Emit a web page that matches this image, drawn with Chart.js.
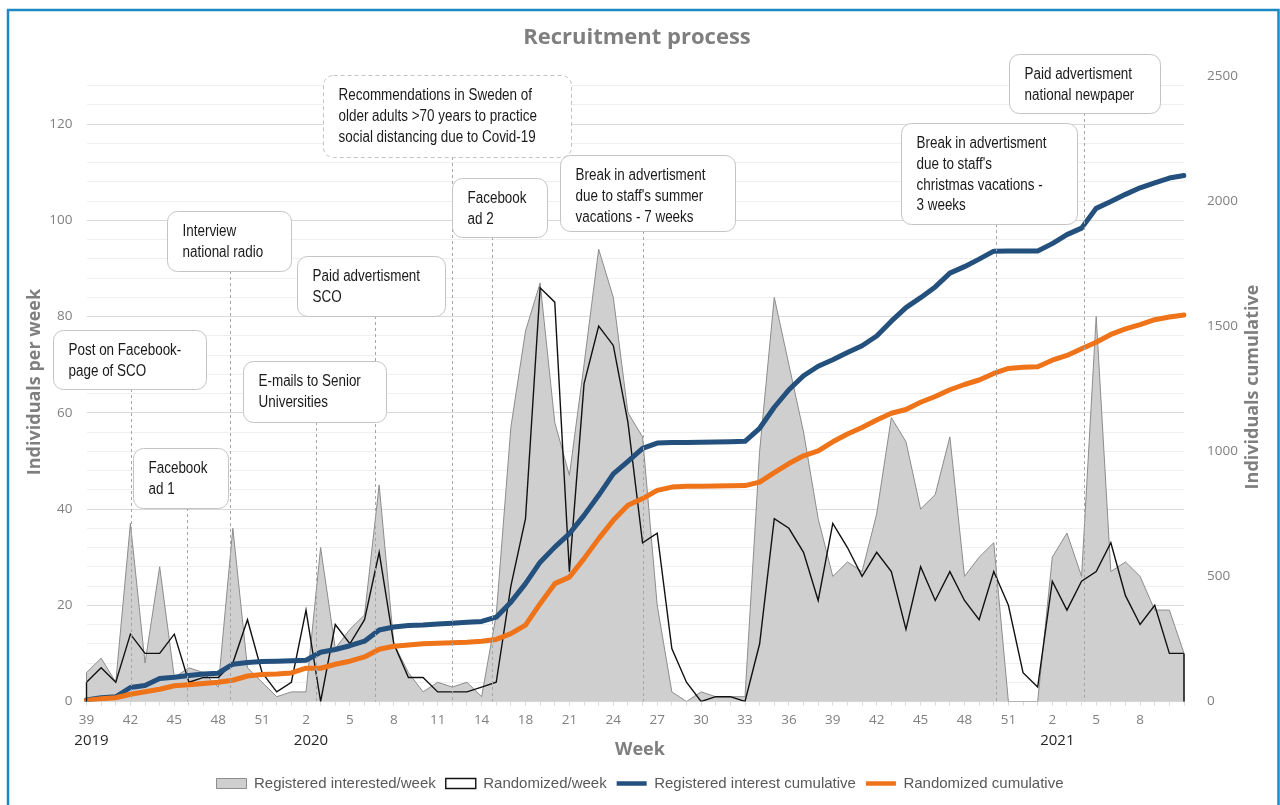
<!DOCTYPE html>
<html>
<head>
<meta charset="utf-8">
<title>Recruitment process</title>
<script src="https://cdn.jsdelivr.net/npm/chart.js@4.4.1/dist/chart.umd.min.js"></script>
<style>
  html, body { margin: 0; padding: 0; background: #fff; }
  #wrap { position: relative; width: 1280px; height: 805px; }
</style>
</head>
<body>
<div id="wrap"><canvas id="chart"></canvas></div>
<script>
// week numbers on the category axis (2019 w39 .. 2021 w11)
const weeks = [
  39, 40, 41, 42, 43, 44, 45, 46, 47, 48, 49, 50, 51, 52,
  1, 2, 3, 4, 5, 6, 7, 8, 9, 10, 11, 12, 13, 14, 16, 17, 18, 19, 20, 21, 22, 23, 24, 25,
  26, 27, 28, 29, 30, 31, 32, 33, 34, 35, 36, 37, 38, 39, 40, 41, 42, 43, 44, 45, 46, 47,
  48, 49, 50, 51, 52,
  1, 2, 3, 4, 5, 6, 7, 8, 9, 10, 11
];
const labelEvery = 3;
const lastLabelIdx = 72;
const years = ['2019', '2020', '2021'];
const yearAt = [0, 15, 66];

const registeredWeek = [
  6, 9, 4, 37, 8, 28, 5, 7, 6, 3, 36, 7, 4, 1, 2, 2, 32, 11, 15, 18, 45, 12, 6, 2, 4, 3, 4, 1,
  18, 57, 77, 87, 58, 47, 70, 94, 84, 60, 55, 20, 2, 0, 2, 1, 1, 1,
  52, 84, 70, 56, 38, 26, 29, 27, 39, 59, 54, 40, 43, 55, 26, 30, 33, 0, 0, 0,
  30, 35, 26, 80, 27, 29, 26, 19, 19, 10
];
const randomizedWeek = [
  4, 7, 4, 14, 10, 10, 14, 4, 5, 5, 8, 17, 6, 2, 4, 19, 0, 16, 12, 17, 31, 12, 5, 5, 2, 2, 2, 3,
  4, 24, 38, 86, 83, 27, 66, 78, 74, 58, 33, 35, 11, 4, 0, 1, 1, 0,
  12, 38, 36, 31, 21, 37, 32, 26, 31, 27, 15, 28, 21, 27, 21, 17, 27, 20, 6, 3,
  25, 19, 25, 27, 33, 22, 16, 20, 10, 10
];
const registeredCum = [
  6, 15, 19, 56, 64, 92, 97, 104, 110, 113, 149, 156, 160, 161, 163, 165, 197, 208, 223, 241,
  286, 298, 304, 306, 310, 313, 317, 320, 337, 397, 471, 557, 617, 671, 744, 824, 910, 960,
  1012, 1033, 1035, 1035, 1036, 1037, 1038, 1040, 1092, 1176, 1246, 1302, 1340, 1366, 1395,
  1422, 1461, 1520, 1574, 1614, 1657, 1712, 1738, 1768, 1800, 1801, 1801, 1801, 1830, 1866,
  1892, 1971, 1998, 2027, 2053, 2073, 2092, 2102
];
const randomizedCum = [
  4, 11, 15, 29, 39, 49, 63, 67, 72, 77, 85, 102, 108, 110, 114, 133, 133, 149, 161, 178,
  209, 221, 226, 231, 233, 235, 237, 241, 248, 271, 305, 391, 471, 497, 571, 651, 724, 784,
  811, 844, 857, 860, 860, 861, 862, 863, 877, 915, 951, 982, 1002, 1038, 1069, 1095, 1125,
  1152, 1167, 1196, 1219, 1246, 1267, 1285, 1311, 1331, 1336, 1338, 1364, 1383, 1410, 1436,
  1467, 1489, 1506, 1526, 1537, 1545
];

const leftTicks = [0, 20, 40, 60, 80, 100, 120];
const leftMinorStep = 4;
const rightTicks = [0, 500, 1000, 1500, 2000, 2500];

// callouts: text lines, category index of the dashed line, box [x, y, w, h] in px
const notes = [
  { lines: ['Post on Facebook-', 'page of SCO'], at: 3.05, box: [53, 330, 153, 59] },
  { lines: ['Facebook', 'ad 1'], at: 6.9, box: [133, 448, 95, 60] },
  { lines: ['Interview', 'national radio'], at: 9.8, box: [167, 211, 124, 60] },
  { lines: ['E-mails to Senior', 'Universities'], at: 15.7, box: [243, 361, 143, 61] },
  { lines: ['Paid advertisment', 'SCO'], at: 19.7, box: [297, 256, 148, 60] },
  { lines: ['Recommendations in Sweden of', 'older adults >70 years to practice', 'social distancing due to Covid-19'], at: 25, box: [323, 75, 248, 82], dashed: true },
  { lines: ['Facebook', 'ad 2'], at: 27.7, box: [452, 178, 95, 59] },
  { lines: ['Break in advertisment', "due to staff's summer", 'vacations - 7 weeks'], at: 38.05, box: [560, 155, 175, 76] },
  { lines: ['Break in advertisment', "due to staff's", 'christmas vacations -', '3 weeks'], at: 62.15, box: [901, 123, 176, 101] },
  { lines: ['Paid advertisment', 'national newpaper'], at: 68.2, box: [1009, 54, 151, 59] }
];

const grayFill = '#d0cfd0';
const grayLine = '#8c8c8c';
const blue = '#23507d';
const orange = '#ef7319';
const axisText = '#808080';

// narrow font if present, otherwise squeeze the regular one
function pickNarrow() {
  const c = document.createElement('canvas').getContext('2d');
  c.font = '20px monospace';
  const base = c.measureText('Registered interest').width;
  c.font = '20px "Liberation Sans Narrow", monospace';
  return c.measureText('Registered interest').width !== base;
}
const hasNarrow = pickNarrow();
const narrowFamily = hasNarrow ? '"Liberation Sans Narrow", "Liberation Sans", Arial, sans-serif' : '"Liberation Sans", Arial, sans-serif';
const squeeze = hasNarrow ? 1 : 0.84;

function roundRect(ctx, x, y, w, h, r) {
  ctx.beginPath();
  ctx.moveTo(x + r, y);
  ctx.arcTo(x + w, y, x + w, y + h, r);
  ctx.arcTo(x + w, y + h, x, y + h, r);
  ctx.arcTo(x, y + h, x, y, r);
  ctx.arcTo(x, y, x + w, y, r);
  ctx.closePath();
}

const extras = {
  id: 'extras',
  beforeDraw(chart) {
    const ctx = chart.ctx;
    ctx.save();
    ctx.fillStyle = '#fff';
    ctx.fillRect(0, 0, chart.width, chart.height);
    ctx.restore();
  },
  afterDatasetsDraw(chart) {
    const ctx = chart.ctx;
    const x = chart.scales.x;
    const area = chart.chartArea;
    ctx.save();

    // area outlines drop to the axis at both ends
    [0, 1].forEach((d) => {
      const pts = chart.getDatasetMeta(d).data;
      const base = chart.scales.y.getPixelForValue(0);
      ctx.strokeStyle = d === 0 ? grayLine : '#111';
      ctx.lineWidth = d === 0 ? 1 : 1.4;
      [pts[0], pts[pts.length - 1]].forEach((p) => {
        ctx.beginPath();
        ctx.moveTo(p.x, p.y);
        ctx.lineTo(p.x, base);
        ctx.stroke();
      });
    });

    // dashed markers
    ctx.strokeStyle = '#a6a6a6';
    ctx.lineWidth = 1;
    ctx.setLineDash([3, 3]);
    notes.forEach((n) => {
      const px = Math.round(x.getPixelForValue(n.at)) + 0.5;
      ctx.beginPath();
      ctx.moveTo(px, n.box[1] + n.box[3]);
      ctx.lineTo(px, area.bottom);
      ctx.stroke();
    });

    // callout boxes
    notes.forEach((n) => {
      const [bx, by, bw, bh] = n.box;
      roundRect(ctx, bx + 0.5, by + 0.5, bw, bh, 10);
      ctx.fillStyle = '#fff';
      ctx.fill();
      ctx.setLineDash(n.dashed ? [4, 3] : []);
      ctx.strokeStyle = '#c4c4c4';
      ctx.stroke();
      ctx.fillStyle = '#1a1a1a';
      ctx.font = '16px ' + narrowFamily;
      ctx.textBaseline = 'middle';
      ctx.textAlign = 'left';
      n.lines.forEach((line, k) => {
        ctx.save();
        ctx.translate(bx + 15.5, by + 20.5 + k * 20.8);
        ctx.scale(squeeze, 1);
        ctx.fillText(line, 0, 0);
        ctx.restore();
      });
    });
    ctx.restore();
  },
  afterDraw(chart) {
    const ctx = chart.ctx;
    const x = chart.scales.x;
    ctx.save();
    ctx.textAlign = 'center';
    ctx.textBaseline = 'middle';

    ctx.fillStyle = '#7f7f7f';
    ctx.font = 'bold 22px "Open Sans", sans-serif';
    ctx.fillText('Recruitment process', 637, 38);

    ctx.font = 'bold 18px "Open Sans", sans-serif';
    ctx.fillText('Week', 640, 750);

    ctx.save();
    ctx.translate(35, 382);
    ctx.rotate(-Math.PI / 2);
    ctx.fillText('Individuals per week', 0, 0);
    ctx.restore();

    ctx.save();
    ctx.translate(1253, 387);
    ctx.rotate(-Math.PI / 2);
    ctx.fillText('Individuals cumulative', 0, 0);
    ctx.restore();

    // year under the first shown week of each year
    ctx.fillStyle = '#262626';
    ctx.font = '15px "Open Sans", sans-serif';
    years.forEach((yr, k) => {
      ctx.fillText(yr, x.getPixelForValue(yearAt[k]) + 5, 741);
    });

    // frame
    ctx.strokeStyle = '#1d89c4';
    ctx.lineWidth = 2.5;
    ctx.strokeRect(8, 10, 1270.5, 820);
    ctx.restore();
  }
};

const ctx = document.getElementById('chart').getContext('2d');
new Chart(ctx, {
  type: 'line',
  data: {
    labels: weeks.map(String),
    datasets: [
      {
        label: 'Registered interested/week',
        data: registeredWeek,
        yAxisID: 'y',
        order: 4,
        fill: 'origin',
        backgroundColor: grayFill,
        borderColor: grayLine,
        borderWidth: 1,
        pointRadius: 0,
        tension: 0
      },
      {
        label: 'Randomized/week',
        data: randomizedWeek,
        yAxisID: 'y',
        order: 3,
        fill: false,
        borderColor: '#111',
        borderWidth: 1.4,
        pointRadius: 0,
        tension: 0
      },
      {
        label: 'Registered interest cumulative',
        data: registeredCum,
        yAxisID: 'y2',
        order: 2,
        fill: false,
        borderColor: blue,
        borderWidth: 5,
        borderJoinStyle: 'round',
        borderCapStyle: 'round',
        pointRadius: 0,
        tension: 0
      },
      {
        label: 'Randomized cumulative',
        data: randomizedCum,
        yAxisID: 'y2',
        order: 1,
        fill: false,
        borderColor: orange,
        borderWidth: 5,
        borderJoinStyle: 'round',
        borderCapStyle: 'round',
        pointRadius: 0,
        tension: 0
      }
    ]
  },
  options: {
    responsive: true,
    maintainAspectRatio: false,
    animation: false,
    layout: { padding: { top: 76, left: 0, right: 0, bottom: 4 } },
    plugins: {
      title: { display: false },
      tooltip: { enabled: false },
      legend: {
        position: 'bottom',
        labels: {
          usePointStyle: true,
          pointStyleWidth: 30,
          boxHeight: 10,
          padding: 10,
          color: '#595959',
          font: { family: narrowFamily, size: 15 },
          sort: (a, b) => a.datasetIndex - b.datasetIndex,
          generateLabels(chart) {
            const items = Chart.defaults.plugins.legend.labels.generateLabels(chart);
            items.forEach((it) => {
              const d = it.datasetIndex;
              if (d === 0) {
                it.pointStyle = 'rect'; it.fillStyle = grayFill; it.strokeStyle = grayLine; it.lineWidth = 1;
              } else if (d === 1) {
                it.pointStyle = 'rect'; it.fillStyle = '#fff'; it.strokeStyle = '#111'; it.lineWidth = 1.4;
              } else {
                it.pointStyle = 'line'; it.lineWidth = 4.5;
              }
            });
            return items;
          }
        }
      }
    },
    scales: {
      x: {
        offset: false,
        afterFit(s) { s.height = 64.5; },
        grid: { drawOnChartArea: false, drawTicks: true, tickLength: 4, color: '#d9d9d9' },
        border: { display: true, color: '#d9d9d9' },
        ticks: {
          autoSkip: false,
          maxRotation: 0,
          padding: 7,
          color: axisText,
          font: { family: '"Open Sans", sans-serif', size: 13.5 },
          callback(val, idx) {
            return idx % labelEvery === 0 && idx <= lastLabelIdx ? String(weeks[idx]) : '';
          }
        }
      },
      y: {
        position: 'left',
        min: 0,
        max: 130,
        afterFit(s) { s.width = 86.5; },
        afterBuildTicks(s) {
          const t = [];
          for (let v = 0; v <= leftTicks[leftTicks.length - 1] + 8; v += leftMinorStep) t.push({ value: v });
          s.ticks = t;
        },
        grid: {
          drawTicks: false,
          color: (c) => (leftTicks.includes(c.tick.value) ? '#d9d9d9' : '#efefef')
        },
        border: { display: false },
        ticks: {
          padding: 14,
          color: axisText,
          font: { family: '"Open Sans", sans-serif', size: 13.5 },
          callback(v) { return leftTicks.includes(v) ? String(v) : ''; }
        }
      },
      y2: {
        position: 'right',
        min: 0,
        max: 2500,
        afterFit(s) { s.width = 96; },
        afterBuildTicks(s) { s.ticks = rightTicks.map((v) => ({ value: v })); },
        grid: { drawOnChartArea: false, drawTicks: false },
        border: { display: false },
        ticks: {
          padding: 23,
          color: axisText,
          font: { family: '"Open Sans", sans-serif', size: 13.5 },
          callback(v) { return String(v); }
        }
      }
    }
  },
  plugins: [extras]
});
</script>
</body>
</html>
